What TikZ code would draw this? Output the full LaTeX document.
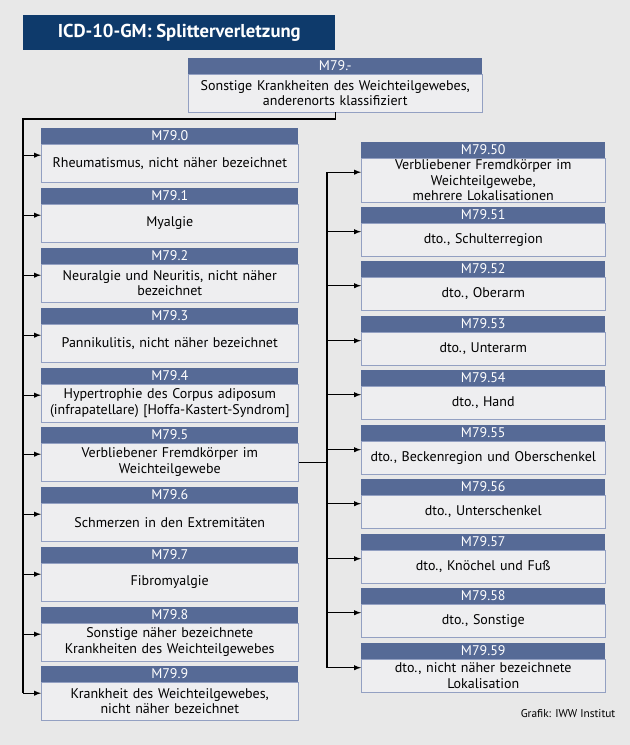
\documentclass[tikz,border=0pt]{standalone}
\usepackage{fontspec}
\setmainfont{PT Sans}
\usepackage{xcolor}
\usetikzlibrary{positioning,calc}
\definecolor{bgray}{HTML}{E8E8E8}
\definecolor{titleblue}{HTML}{0E3A6B}
\definecolor{headblue}{HTML}{566A96}
\definecolor{bodyfill}{HTML}{EEEEF0}
\definecolor{bodyline}{HTML}{93A0C2}

\tikzset{
  codehead/.style = {fill = headblue, text = white, inner sep = 0pt, anchor = north west,
    font = \fontsize{10.5}{11}\selectfont},
  codebody/.style = {fill = bodyfill, draw = bodyline, inner sep = 0pt, anchor = north west,
    align = center, font = \fontsize{10.5}{11.5}\selectfont},
  link/.style = {->, >=latex, thick, black}
}

% #1 name, #2 x, #3 y, #4 width, #5 body height, #6 code, #7 text
\newcommand{\icdbox}[7]{%
  \node[codehead, minimum width = #4*0.75pt, minimum height = 11.5pt] (h#1) at (#2*0.75pt, -#3*0.75pt) {#6};
  \node[codebody, minimum width = #4*0.75pt, minimum height = #5*0.75pt, text width = #4*0.75pt - 8pt] (b#1) at (h#1.south west) {#7};
  \coordinate (m#1) at ($(h#1.north west)!0.5!(b#1.south west)$);
}

\begin{document}
\begin{tikzpicture}
    \fill[bgray] (0,0) rectangle (630*0.75pt, -745*0.75pt);
    \useasboundingbox (0,0) rectangle (630*0.75pt, -745*0.75pt);
    \node[fill = titleblue, text = white, minimum width = 312*0.75pt, minimum height = 35*0.75pt, anchor = north west,
      font = \fontsize{14}{16}\bfseries\selectfont] (title) at (23*0.75pt, -15*0.75pt) {ICD-10-GM: Splitterverletzung};
    \icdbox{top}{188}{58}{294}{38}{M79.-}{Sonstige Krankheiten des Weichteilgewebes,\\anderenorts klassifiziert}
    % left column
    \icdbox{0}{41}{128}{257}{38}{M79.0}{Rheumatismus, nicht näher bezeichnet}
    \icdbox{1}{41}{188}{257}{38}{M79.1}{Myalgie}
    \icdbox{2}{41}{248}{257}{38}{M79.2}{Neuralgie und Neuritis, nicht näher\\bezeichnet}
    \icdbox{3}{41}{308}{257}{38}{M79.3}{Pannikulitis, nicht näher bezeichnet}
    \icdbox{4}{41}{368}{257}{38}{M79.4}{Hypertrophie des Corpus adiposum\\(infrapatellare) [Hoffa-Kastert-Syndrom]}
    \icdbox{5}{41}{427}{257}{38}{M79.5}{Verbliebener Fremdkörper im\\Weichteilgewebe}
    \icdbox{6}{41}{487}{257}{38}{M79.6}{Schmerzen in den Extremitäten}
    \icdbox{7}{41}{547}{257}{38}{M79.7}{Fibromyalgie}
    \icdbox{8}{41}{607}{257}{38}{M79.8}{Sonstige näher bezeichnete\\Krankheiten des Weichteilgewebes}
    \icdbox{9}{41}{666}{257}{38}{M79.9}{Krankheit des Weichteilgewebes,\\nicht näher bezeichnet}
    % right column
    \icdbox{50}{361}{142}{244}{44}{M79.50}{Verbliebener Fremdkörper im\\Weichteilgewebe,\\mehrere Lokalisationen}
    \icdbox{51}{361}{207}{244}{33}{M79.51}{dto., Schulterregion}
    \icdbox{52}{361}{261}{244}{33}{M79.52}{dto., Oberarm}
    \icdbox{53}{361}{316}{244}{33}{M79.53}{dto., Unterarm}
    \icdbox{54}{361}{370}{244}{33}{M79.54}{dto., Hand}
    \icdbox{55}{361}{425}{244}{33}{M79.55}{dto., Beckenregion und Oberschenkel}
    \icdbox{56}{361}{479}{244}{33}{M79.56}{dto., Unterschenkel}
    \icdbox{57}{361}{534}{244}{33}{M79.57}{dto., Knöchel und Fuß}
    \icdbox{58}{361}{588}{244}{33}{M79.58}{dto., Sonstige}
    \icdbox{59}{361}{643}{244}{33}{M79.59}{dto., nicht näher bezeichnete\\Lokalisation}
    \node[anchor = south east, font = \fontsize{8.5}{10}\selectfont] (credit) at (620*0.75pt, -722*0.75pt) {Grafik: IWW Institut};
    % connectors
    \coordinate (tl) at (23*0.75pt, -119*0.75pt);
    \coordinate (tr) at (327*0.75pt, 0);
    \draw[thick] (btop.south) |- (tl) -- (tl |- m9);
    \foreach \i in {0,...,9}
      \draw[link] (tl |- m\i) -- (m\i);
    \draw[thick] (b5.east) -- (b5.east -| tr);
    \draw[thick] (tr |- m50) -- (tr |- m59);
    \foreach \i in {50,...,59}
      \draw[link] (tr |- m\i) -- (m\i);
\end{tikzpicture}
\end{document}
